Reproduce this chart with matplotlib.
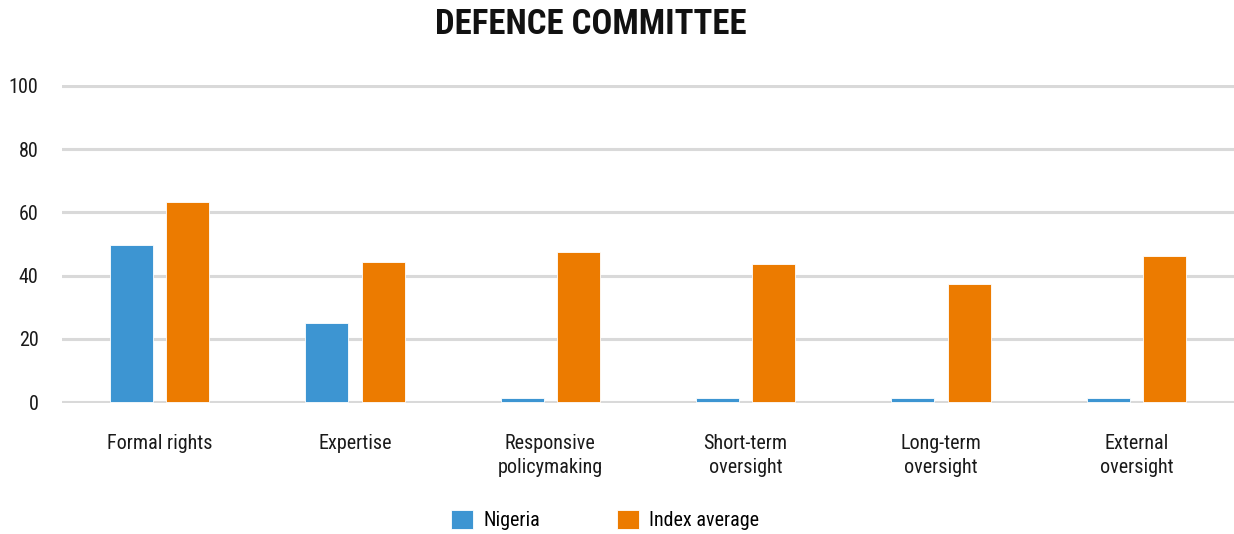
import matplotlib
matplotlib.use('Agg')
import matplotlib.pyplot as plt
import numpy as np

categories = ['Formal rights', 'Expertise', 'Responsive\npolicymaking',
              'Short-term\noversight', 'Long-term\noversight', 'External\noversight']
nigeria = [49.7, 25.1, 1.2, 1.2, 1.2, 1.2]
index_avg = [63.2, 44.2, 47.4, 43.7, 37.5, 46.1]

# condensed face like the original, with plain fallbacks
plt.rcParams['font.family'] = ['Roboto Condensed', 'Fira Sans Condensed', 'Roboto', 'DejaVu Sans']

fig = plt.figure(figsize=(12.34, 5.34), dpi=100)
ax = fig.add_axes([62/1234, 1 - 403/534, 1172/1234, 318/534])

x = np.arange(len(categories))
w = 0.22
ax.bar(x - 0.144, nigeria, w, color='#3d95d2', edgecolor='white', linewidth=0.6,
       label='Nigeria', zorder=3)
ax.bar(x + 0.144, index_avg, w, color='#ec7b00', edgecolor='white', linewidth=0.6,
       label='Index average', zorder=3)

ax.set_xlim(-0.5, len(categories) - 0.5)
ax.set_ylim(-0.3, 100.3)
ax.set_yticks([0, 20, 40, 60, 80, 100])
ax.set_xticks(x)
ax.set_xticklabels(categories, fontsize=14.5, linespacing=1.33)
ax.tick_params(axis='both', length=0, labelsize=14.5, colors='#1a1a1a')
ax.tick_params(axis='y', pad=17)
ax.tick_params(axis='x', pad=22)
ax.grid(axis='y', color='#d9d9d9', linewidth=2.2, zorder=0)
for s in ax.spines.values():
    s.set_visible(False)

fig.text(591/1234, 1 - 25/534, 'DEFENCE COMMITTEE', ha='center', va='center',
         fontsize=25, fontweight='bold', color='#111111')

fig.legend(loc='center', bbox_to_anchor=(605/1234, 1 - 520/534), ncol=2,
           frameon=False, fontsize=14.5, handlelength=1.1, handleheight=1.1,
           handletextpad=0.5, columnspacing=3.8)

fig.savefig('out.png', dpi=100)
